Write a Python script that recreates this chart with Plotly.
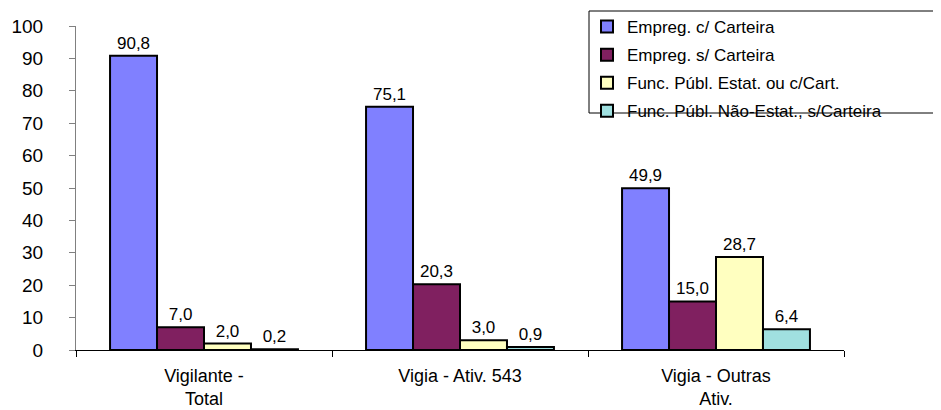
import plotly.graph_objects as go

categories = ["Vigilante -<br>Total", "Vigia - Ativ. 543", "Vigia - Outras<br>Ativ."]
series_names = [
    "Empreg. c/ Carteira",
    "Empreg. s/ Carteira",
    "Func. Públ. Estat. ou c/Cart.",
    "Func. Públ. Não-Estat., s/Carteira",
]
emp_com = [90.8, 75.1, 49.9]
emp_sem = [7.0, 20.3, 15.0]
func_estat = [2.0, 3.0, 28.7]
func_nao_estat = [0.2, 0.9, 6.4]
series_values = [emp_com, emp_sem, func_estat, func_nao_estat]
colors = ["#8080FF", "#802060", "#FFFFC0", "#A0E0E0"]
y_ticks = [0, 10, 20, 30, 40, 50, 60, 70, 80, 90, 100]

# page body has an 8px default margin; figure is sized to fit the window
OFF = 8
W, H = 941 - OFF, 410 - OFF
ml, mr, mt, mb = 76 - OFF, 97, 26 - OFF, 60
pw, ph = W - ml - mr, H - mt - mb


def px_x(x):
    return (x - OFF - ml) / pw


def px_y(y):
    return (H - mb - (y - OFF)) / ph


fig = go.Figure()
for i, (name, vals, col) in enumerate(zip(series_names, series_values, colors)):
    fig.add_trace(go.Bar(
        x=categories, y=vals, name=name,
        legendgroup=f"g{i}",
        marker=dict(color=col, line=dict(color="black", width=2)),
        texttemplate="%{y:.1f}", textposition="outside",
        textfont=dict(family="Liberation Sans, Arial", size=17, color="black"),
        cliponaxis=False,
    ))

# legend box
fig.add_shape(type="rect", xref="paper", yref="paper",
              x0=px_x(589), x1=px_x(937), y0=px_y(113), y1=px_y(11),
              line=dict(color="black", width=1), fillcolor="white", layer="below")

fig.update_layout(
    width=W, height=H,
    margin=dict(l=ml, r=mr, t=mt, b=mb, autoexpand=False),
    paper_bgcolor="white", plot_bgcolor="white",
    barmode="group", bargap=0.266, bargroupgap=0,
    separators=",.",
    font=dict(family="Liberation Sans, Arial", color="black"),
    showlegend=True,
    legend=dict(
        x=px_x(587), y=px_y(9), xanchor="left", yanchor="top",
        font=dict(size=17, color="black"), bgcolor="rgba(0,0,0,0)",
        borderwidth=0, tracegroupgap=3, itemwidth=30,
    ),
    xaxis=dict(
        showline=True, linecolor="black", linewidth=1,
        ticks="outside", tickson="boundaries", ticklen=6, tickcolor="black",
        tickfont=dict(size=18), ticklabelstandoff=9,
        showgrid=False, zeroline=False, automargin=False,
    ),
    yaxis=dict(
        range=[0, 100], tickvals=y_ticks,
        showline=True, linecolor="#808080", linewidth=1,
        ticks="outside", ticklen=6, tickcolor="#808080",
        tickfont=dict(size=19), ticklabelstandoff=22,
        showgrid=False, zeroline=False, automargin=False,
    ),
)

fig.write_html("out.html")
